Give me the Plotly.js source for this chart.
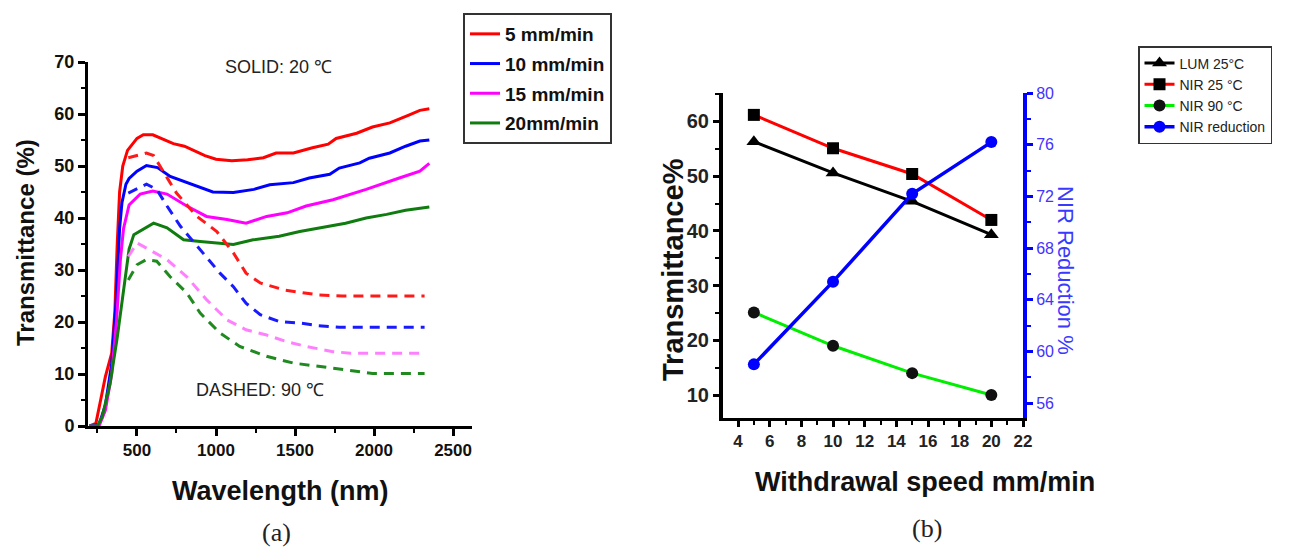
<!DOCTYPE html>
<html>
<head>
<meta charset="utf-8">
<script src="https://cdn.plot.ly/plotly-3.0.1.min.js"></script>
<style>html,body{margin:0;padding:0;background:#fff;}#chart{width:1290px;height:550px;}</style>
</head>
<body>
<div id="chart"></div>
<script>
// ---------- Panel (a): transmittance spectra ----------
const legendLabels = ["5 mm/min", "10 mm/min", "15 mm/min", "20mm/min"];

const wlRedSolid = [200, 240, 270, 300, 340, 360, 375, 390, 410, 440, 500, 540, 600, 670, 730, 800, 860, 930, 1000, 1100, 1200, 1300, 1380, 1490, 1610, 1710, 1760, 1890, 1990, 2100, 2220, 2290, 2350];
const tRedSolid  = [0, 0.5, 5, 9.5, 14, 22, 35, 45, 50, 53, 55.3, 56, 56, 55, 54.3, 53.8, 53, 52, 51.3, 51, 51.2, 51.6, 52.5, 52.5, 53.5, 54.2, 55.3, 56.3, 57.5, 58.3, 59.8, 60.7, 61];

const wlBlueSolid = [200, 260, 300, 340, 370, 390, 405, 430, 450, 500, 560, 630, 710, 815, 900, 980, 1110, 1240, 1340, 1490, 1590, 1720, 1780, 1910, 1970, 2100, 2200, 2290, 2350];
const tBlueSolid  = [0, 0.3, 4, 12, 25, 38, 43, 46.5, 47.6, 49, 50.1, 49.7, 48, 46.8, 45.8, 45, 44.9, 45.5, 46.4, 46.8, 47.7, 48.4, 49.6, 50.6, 51.5, 52.5, 53.8, 54.8, 55];

const wlMagSolid = [200, 260, 300, 340, 370, 395, 415, 450, 520, 600, 690, 815, 940, 1070, 1190, 1320, 1450, 1570, 1740, 1950, 2160, 2290, 2350];
const tMagSolid  = [0, 0, 3, 10, 20, 32, 38, 42.5, 44.6, 45.2, 44.6, 42.3, 40.3, 39.7, 39, 40.3, 41, 42.3, 43.5, 45.5, 47.7, 49, 50.5];

const wlGreenSolid = [200, 250, 280, 330, 375, 415, 450, 480, 540, 605, 690, 795, 900, 1025, 1110, 1235, 1400, 1530, 1700, 1820, 1950, 2080, 2200, 2350];
const tGreenSolid  = [0, 0, 1.8, 8.2, 17, 26, 34, 36.8, 37.8, 39, 38.1, 35.8, 35.5, 35.2, 34.9, 35.8, 36.5, 37.4, 38.4, 39, 40, 40.7, 41.5, 42.1];

const wlRedDash = [445, 560, 605, 670, 750, 880, 1005, 1110, 1190, 1280, 1440, 1650, 1800, 2320];
const tRedDash  = [51.6, 52.5, 52, 48.7, 44.8, 40.3, 37.4, 33.3, 29.4, 27.5, 26.1, 25.2, 25, 25];

const wlBlueDash = [445, 560, 625, 690, 775, 900, 1025, 1110, 1190, 1280, 1400, 1530, 1650, 1780, 2320];
const tBlueDash  = [44.8, 46.5, 45.5, 42.3, 38.4, 33.9, 29.4, 26.8, 23.6, 21.4, 20.1, 19.8, 19.3, 19, 19];

const wlMagDash = [445, 500, 560, 690, 815, 940, 1070, 1190, 1320, 1450, 1570, 1740, 1850, 2320];
const tMagDash  = [32.6, 35.2, 34.2, 32, 28.7, 24.3, 20.4, 18.5, 17.5, 16.2, 15.3, 14.3, 14, 14];

const wlGreenDash = [445, 500, 560, 625, 710, 815, 900, 1025, 1150, 1320, 1490, 1650, 1820, 1990, 2320];
const tGreenDash  = [28.1, 31, 32, 31.7, 28.7, 25.6, 21.7, 17.9, 15.3, 13.4, 12.1, 11.4, 10.8, 10.1, 10.1];

// ---------- Panel (b): vs withdrawal speed ----------
const speeds = [5, 10, 15, 20];
const lum25 = [56.3, 50.6, 45.4, 39.3];
const nir25 = [61.2, 55.1, 50.4, 42.0];
const nir90 = [25.1, 19.0, 14.0, 10.0];
const nirReduction = [59.0, 65.4, 72.2, 76.2];
const legendLabelsB = ["LUM 25°C", "NIR 25 °C", "NIR 90 °C", "NIR reduction"];

const W = 1290, H = 550;
const px = v => v / W;
const py = v => 1 - v / H;
const SANS = 'Liberation Sans, Arial, sans-serif';

function solid(x, y, color, name, grp) {
  return {x: x, y: y, type: 'scatter', mode: 'lines', name: name, xaxis: 'x', yaxis: 'y', legendgroup: grp,
          line: {color: color, width: 3}, legend: 'legend', hoverinfo: 'skip'};
}
function dashed(x, y, color) {
  return {x: x, y: y, type: 'scatter', mode: 'lines', showlegend: false, xaxis: 'x', yaxis: 'y',
          line: {color: color, width: 3, dash: '10px,7px'}, hoverinfo: 'skip'};
}

const traces = [
  solid(wlRedSolid, tRedSolid, '#ff0000', legendLabels[0], 'g1'),
  solid(wlBlueSolid, tBlueSolid, '#0000ff', legendLabels[1], 'g2'),
  solid(wlMagSolid, tMagSolid, '#ff00ff', legendLabels[2], 'g3'),
  solid(wlGreenSolid, tGreenSolid, '#107c10', legendLabels[3], 'g4'),
  dashed(wlRedDash, tRedDash, '#ff1a1a'),
  dashed(wlBlueDash, tBlueDash, '#1a1aff'),
  dashed(wlMagDash, tMagDash, '#ff80ff'),
  dashed(wlGreenDash, tGreenDash, '#208a20'),
  {x: speeds, y: lum25, type: 'scatter', mode: 'lines+markers', name: legendLabelsB[0], xaxis: 'x2', yaxis: 'y2', legend: 'legend2',
   line: {color: '#000', width: 3}, marker: {symbol: 'triangle-up', size: 13, color: '#000'}},
  {x: speeds, y: nir25, type: 'scatter', mode: 'lines+markers', name: legendLabelsB[1], xaxis: 'x2', yaxis: 'y2', legend: 'legend2',
   line: {color: '#ff0000', width: 3}, marker: {symbol: 'square', size: 12, color: '#000'}},
  {x: speeds, y: nir90, type: 'scatter', mode: 'lines+markers', name: legendLabelsB[2], xaxis: 'x2', yaxis: 'y2', legend: 'legend2',
   line: {color: '#00ee00', width: 3}, marker: {symbol: 'circle', size: 12, color: '#111'}},
  {x: speeds, y: nirReduction, type: 'scatter', mode: 'lines+markers', name: legendLabelsB[3], xaxis: 'x2', yaxis: 'y3', legend: 'legend2',
   line: {color: '#0000ff', width: 3.5}, marker: {symbol: 'circle', size: 12, color: '#0000ff'}}
];

function ann(text, x, y, size, opts) {
  return Object.assign({text: text, x: px(x), y: py(y), xref: 'paper', yref: 'paper', showarrow: false,
    xanchor: 'center', yanchor: 'middle', font: Object.assign({family: SANS, size: size, color: '#111'}, (opts && opts.font) || {})},
    opts && opts.extra ? opts.extra : {});
}

const layout = {
  width: W, height: H,
  margin: {l: 0, r: 0, t: 0, b: 0},
  paper_bgcolor: '#fff', plot_bgcolor: 'rgba(0,0,0,0)',
  showlegend: true,
  xaxis: {
    domain: [px(88), px(472)], anchor: 'y', range: [190, 2620],
    tickvals: [500, 1000, 1500, 2000, 2500], ticks: 'outside', ticklen: 7, tickwidth: 3, tickcolor: '#000',
    minor: {dtick: 250, tick0: 0, ticks: 'outside', ticklen: 4, tickwidth: 2, tickcolor: '#000'},
    showline: true, linewidth: 3, linecolor: '#000', showgrid: false, zeroline: false,
    tickfont: {family: SANS, size: 17, color: '#111', weight: 'bold'}
  },
  yaxis: {
    domain: [py(426), py(62)], anchor: 'x', range: [0, 70],
    dtick: 10, ticks: 'outside', ticklen: 7, tickwidth: 3, tickcolor: '#000',
    minor: {dtick: 5, ticks: 'outside', ticklen: 4, tickwidth: 2, tickcolor: '#000'},
    showline: true, linewidth: 3, linecolor: '#000', showgrid: false, zeroline: false,
    tickfont: {family: SANS, size: 18, color: '#111', weight: 'bold'}
  },
  xaxis2: {
    domain: [px(723), px(1023)], anchor: 'y2', range: [3.05, 22],
    tick0: 4, dtick: 2, ticks: 'outside', ticklen: 6, tickwidth: 3, tickcolor: '#000',
    minor: {dtick: 1, ticks: 'outside', ticklen: 4, tickwidth: 2, tickcolor: '#000'},
    showline: true, linewidth: 3, linecolor: '#000', mirror: false, showgrid: false, zeroline: false,
    tickfont: {family: SANS, size: 17, color: '#222', weight: 'bold'}
  },
  xaxis3: {
    overlaying: 'x2', side: 'top', anchor: 'y2', range: [0, 15.62],
    tick0: 1.667, dtick: 1, ticks: 'inside', ticklen: 5, tickwidth: 1.5, tickcolor: '#000',
    showticklabels: false, showline: true, linewidth: 2, linecolor: '#000', showgrid: false, zeroline: false
  },
  yaxis2: {
    domain: [py(418), py(93)], anchor: 'x2', range: [5.8, 65.2],
    tickvals: [10, 20, 30, 40, 50, 60], ticks: 'outside', ticklen: 6, tickwidth: 3, tickcolor: '#000',
    minor: {dtick: 5, ticks: 'outside', ticklen: 4, tickwidth: 2, tickcolor: '#000'},
    showline: true, linewidth: 4, linecolor: '#000', showgrid: false, zeroline: false,
    tickfont: {family: SANS, size: 20, color: '#222', weight: 'bold'}
  },
  yaxis3: {
    overlaying: 'y2', side: 'right', anchor: 'x2', range: [54.85, 80],
    tick0: 56, dtick: 4, ticks: 'outside', ticklen: 6, tickwidth: 3, tickcolor: '#0000ff',
    minor: {dtick: 2, ticks: 'outside', ticklen: 4, tickwidth: 2, tickcolor: '#0000ff'},
    showline: true, linewidth: 4, linecolor: '#0000ff', showgrid: false, zeroline: false,
    tickfont: {family: SANS, size: 16, color: '#4433ff'}
  },
  legend: {
    x: px(463), y: py(13), xanchor: 'left', yanchor: 'top',
    bordercolor: '#333', borderwidth: 2, bgcolor: '#fff',
    font: {family: SANS, size: 19, color: '#111', weight: 'bold'},
    tracegroupgap: 2, traceorder: 'grouped', itemwidth: 30
  },
  legend2: {
    x: px(1138), y: py(46), xanchor: 'left', yanchor: 'top',
    bordercolor: '#333', borderwidth: 1.5, bgcolor: '#fff',
    font: {family: SANS, size: 14, color: '#222'}
  },
  annotations: [
    ann('SOLID: 20 ℃', 278, 67, 18, {font: {color: '#222'}}),
    ann('DASHED: 90 ℃', 260, 390, 18, {font: {color: '#222'}}),
    ann('Transmittance (%)', 25, 243, 24, {font: {weight: 'bold'}, extra: {textangle: -90}}),
    ann('Wavelength (nm)', 280, 491, 27, {font: {weight: 'bold'}}),
    ann('(a)', 276, 532, 26, {font: {family: 'Liberation Serif, DejaVu Serif, serif', color: '#222'}}),
    ann('Transmittance%', 673, 270, 29, {font: {weight: 'bold'}, extra: {textangle: -90}}),
    ann('NIR Reduction %', 1066, 270, 22, {font: {color: '#3a3aff'}, extra: {textangle: 90}}),
    ann('Withdrawal speed mm/min', 925, 482, 27, {font: {weight: 'bold'}}),
    ann('(b)', 927, 528, 26, {font: {family: 'Liberation Serif, DejaVu Serif, serif', color: '#222'}})
  ]
};

Plotly.newPlot('chart', traces, layout, {staticPlot: true, displayModeBar: false});
</script>
</body>
</html>
